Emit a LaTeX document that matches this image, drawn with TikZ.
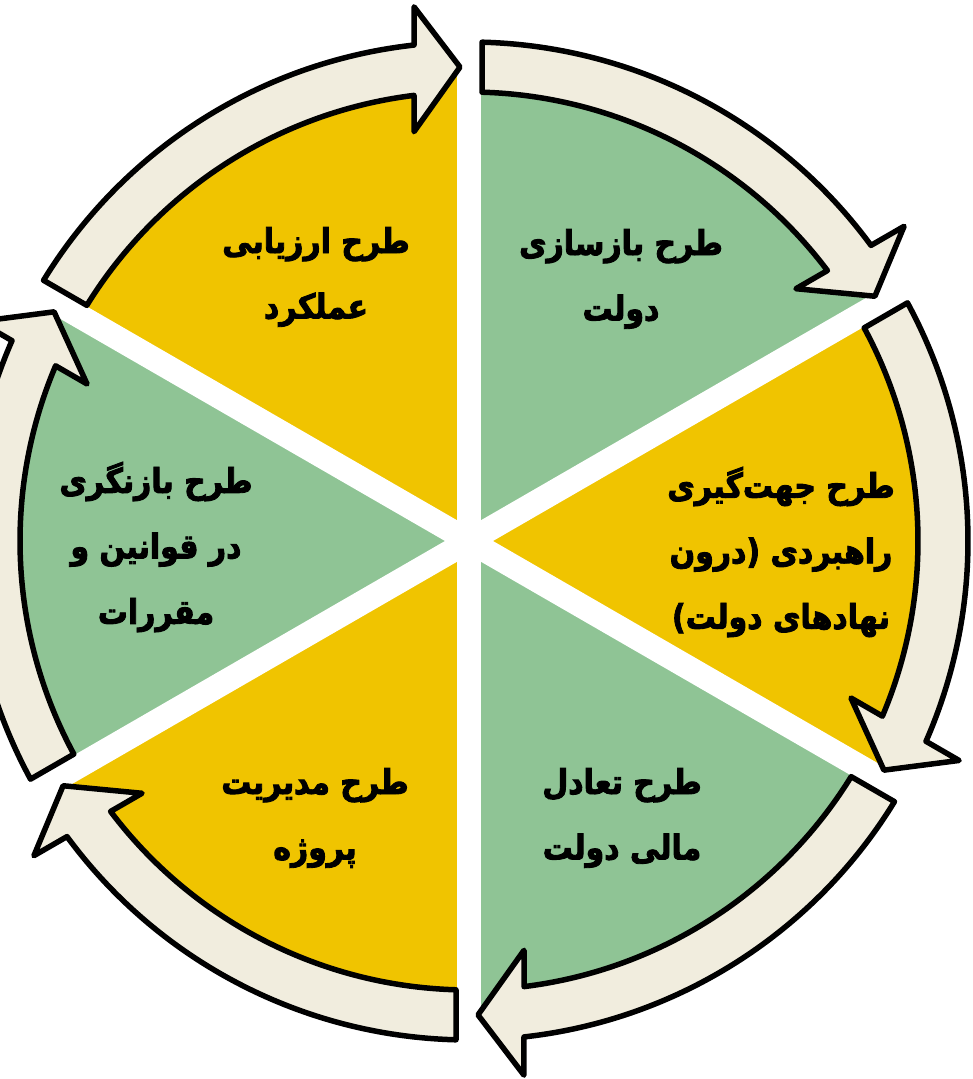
\documentclass[tikz,border=0pt]{standalone}
\usepackage{fontspec}
\usetikzlibrary{calc}
\TeXXeTstate=1
\newfontfamily\fa[Script=Arabic, FakeStretch=0.88, BoldFeatures={FakeBold=2.6}]{DejaVu Sans}
\definecolor{yel}{HTML}{F0C400}
\definecolor{grn}{HTML}{8FC495}
\definecolor{bei}{HTML}{F1EDDE}
\tikzset{
  arr/.style={fill=bei, draw=black, line width=5.5pt, line join=round},
  lbl/.style={align=center, font=\fa\bfseries\fontsize{34}{65.5}\selectfont, text=black},
  gap/.style={draw=white, line width=24pt}
}
\newcommand\cyarrow[1]{%
  \pgfmathsetmacro\fs{#1}%
  \pgfmathsetmacro\fe{#1-60}%
  \pgfmathsetmacro\aA{\fs-1.493}%
  \pgfmathsetmacro\aB{\fe+6.328}%
  \pgfmathsetmacro\aC{\fe+5.878}%
  \pgfmathsetmacro\aD{\fe+1.088}%
  \pgfmathsetmacro\aE{\fe+7.653}%
  \pgfmathsetmacro\aF{\fe+7.036}%
  \pgfmathsetmacro\aG{\fs-1.659}%
  \path[arr] ($(C)+(\aA:499)$) arc[start angle=\aA, end angle=\aB, radius=499]
    -- ($(C)+(\aC:537)$) -- ($(C)+(\aD:474)$) -- ($(C)+(\aE:413)$) -- ($(C)+(\aF:449)$)
    arc[start angle=\aF, end angle=\aG, radius=449] -- cycle;%
}
\begin{document}
\begin{tikzpicture}[x=1pt,y=1pt]
\useasboundingbox (0,0) rectangle (973,1079);
\clip (0,0) rectangle (973,1079);
\coordinate (C) at (469,538);
% pie
\fill[yel] (C) -- ++(90:466) arc[start angle=90, end angle=150, radius=466] -- cycle;
\fill[grn] (C) -- ++(30:466) arc[start angle=30, end angle=90, radius=466] -- cycle;
\fill[yel] (C) -- ++(-30:466) arc[start angle=-30, end angle=30, radius=466] -- cycle;
\fill[grn] (C) -- ++(-90:466) arc[start angle=-90, end angle=-30, radius=466] -- cycle;
\fill[yel] (C) -- ++(210:466) arc[start angle=210, end angle=270, radius=466] -- cycle;
\fill[grn] (C) -- ++(150:466) arc[start angle=150, end angle=210, radius=466] -- cycle;
% gaps
\path[gap] ($(C)+(90:480)$) -- ($(C)+(270:480)$);
\path[gap] ($(C)+(30:480)$) -- ($(C)+(210:480)$);
\path[gap] ($(C)+(150:480)$) -- ($(C)+(330:480)$);
% arrows
\cyarrow{90}
\cyarrow{30}
\cyarrow{-30}
\cyarrow{-90}
\cyarrow{-150}
\cyarrow{150}
% labels
\node[lbl] (t1) at (621,800) {\beginR طرح بازسازی\endR\\\beginR دولت\endR};
\node[lbl] (t2) at (781,527) {\beginR طرح جهت‌گیری\endR\\\beginR راهبردی (درون\endR\\\beginR نهادهای دولت)\endR};
\node[lbl] (t3) at (622,261) {\beginR طرح تعادل\endR\\\beginR مالی دولت\endR};
\node[lbl] (t4) at (315,261) {\beginR طرح مدیریت\endR\\\beginR پروژه\endR};
\node[lbl] (t5) at (156,532) {\beginR طرح بازنگری\endR\\\beginR در قوانین و\endR\\\beginR مقررات\endR};
\node[lbl] (t6) at (316,802) {\beginR طرح ارزیابی\endR\\\beginR عملکرد\endR};
\end{tikzpicture}
\end{document}
